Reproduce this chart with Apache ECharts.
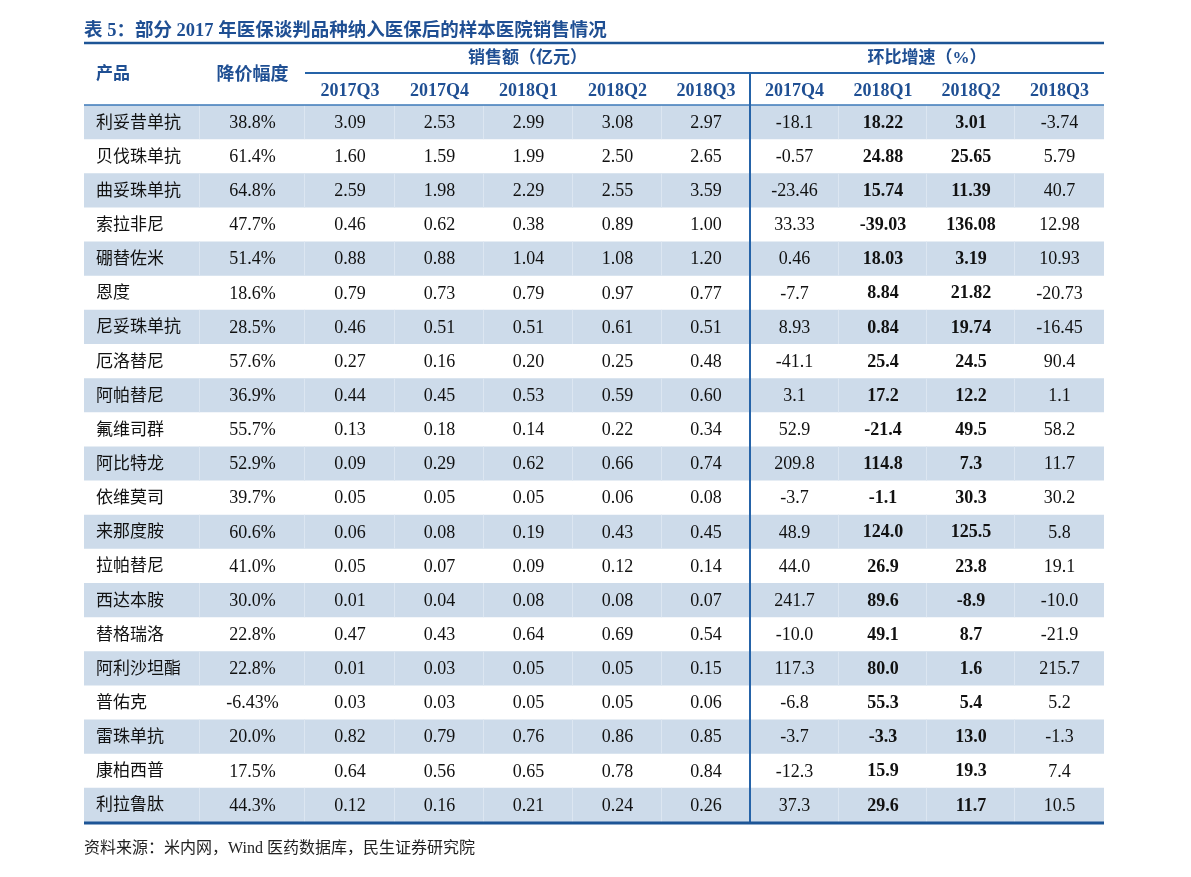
<!DOCTYPE html>
<html>
<head>
<meta charset="utf-8">
<script src="https://cdn.jsdelivr.net/npm/echarts@6/dist/echarts.min.js"></script>
<style>html,body{margin:0;padding:0;background:#fff}#c{width:1191px;height:877px}</style>
</head>
<body>
<div id="c"></div>
<script>
const titleText = '表 5：部分 2017 年医保谈判品种纳入医保后的样本医院销售情况';
const sourceText = '资料来源：米内网，Wind 医药数据库，民生证券研究院';
const groupSales = '销售额（亿元）';
const groupGrowth = '环比增速（%）';
const headProduct = '产品';
const headCut = '降价幅度';
const salesQuarters = ['2017Q3','2017Q4','2018Q1','2018Q2','2018Q3'];
const growthQuarters = ['2017Q4','2018Q1','2018Q2','2018Q3'];

const products = ['利妥昔单抗','贝伐珠单抗','曲妥珠单抗','索拉非尼','硼替佐米','恩度','尼妥珠单抗','厄洛替尼','阿帕替尼','氟维司群','阿比特龙','依维莫司','来那度胺','拉帕替尼','西达本胺','替格瑞洛','阿利沙坦酯','普佑克','雷珠单抗','康柏西普','利拉鲁肽'];
const priceCut = ['38.8%','61.4%','64.8%','47.7%','51.4%','18.6%','28.5%','57.6%','36.9%','55.7%','52.9%','39.7%','60.6%','41.0%','30.0%','22.8%','22.8%','-6.43%','20.0%','17.5%','44.3%'];

const sales2017Q3 = ['3.09','1.60','2.59','0.46','0.88','0.79','0.46','0.27','0.44','0.13','0.09','0.05','0.06','0.05','0.01','0.47','0.01','0.03','0.82','0.64','0.12'];
const sales2017Q4 = ['2.53','1.59','1.98','0.62','0.88','0.73','0.51','0.16','0.45','0.18','0.29','0.05','0.08','0.07','0.04','0.43','0.03','0.03','0.79','0.56','0.16'];
const sales2018Q1 = ['2.99','1.99','2.29','0.38','1.04','0.79','0.51','0.20','0.53','0.14','0.62','0.05','0.19','0.09','0.08','0.64','0.05','0.05','0.76','0.65','0.21'];
const sales2018Q2 = ['3.08','2.50','2.55','0.89','1.08','0.97','0.61','0.25','0.59','0.22','0.66','0.06','0.43','0.12','0.08','0.69','0.05','0.05','0.86','0.78','0.24'];
const sales2018Q3 = ['2.97','2.65','3.59','1.00','1.20','0.77','0.51','0.48','0.60','0.34','0.74','0.08','0.45','0.14','0.07','0.54','0.15','0.06','0.85','0.84','0.26'];

const growth2017Q4 = ['-18.1','-0.57','-23.46','33.33','0.46','-7.7','8.93','-41.1','3.1','52.9','209.8','-3.7','48.9','44.0','241.7','-10.0','117.3','-6.8','-3.7','-12.3','37.3'];
const growth2018Q1 = ['18.22','24.88','15.74','-39.03','18.03','8.84','0.84','25.4','17.2','-21.4','114.8','-1.1','124.0','26.9','89.6','49.1','80.0','55.3','-3.3','15.9','29.6'];
const growth2018Q2 = ['3.01','25.65','11.39','136.08','3.19','21.82','19.74','24.5','12.2','49.5','7.3','30.3','125.5','23.8','-8.9','8.7','1.6','5.4','13.0','19.3','11.7'];
const growth2018Q3 = ['-3.74','5.79','40.7','12.98','10.93','-20.73','-16.45','90.4','1.1','58.2','11.7','30.2','5.8','19.1','-10.0','-21.9','215.7','5.2','-1.3','7.4','10.5'];

// layout (axis units along x)
const colEdges = [0,116,221,311,400,489,578,666,755,843,931,1020];
const boldCols = [8, 9];

const columns = [products, priceCut, sales2017Q3, sales2017Q4, sales2018Q1, sales2018Q2, sales2018Q3,
                 growth2017Q4, growth2018Q1, growth2018Q2, growth2018Q3];

const cells = [];
products.forEach((p, i) => {
  columns.forEach((col, j) => { cells.push({ value: [j, i], text: col[i] }); });
});

const SERIF = "'Liberation Serif','Noto Sans CJK SC',serif";
const BLUE = '#1f4f93';
const LINE = '#2563a8';
const SHADE = '#cddbea';

const chart = echarts.init(document.getElementById('c'), null, { renderer: 'canvas' });

function cellRender(params, api) {
  const j = api.value(0), i = api.value(1);
  const left = api.coord([colEdges[j], i])[0];
  const right = api.coord([colEdges[j + 1], i])[0];
  const cy = api.coord([0, i])[1];
  const h = api.size([0, 1])[1];
  const children = [];
  if (i % 2 === 0) {
    children.push({ type: 'rect', shape: { x: left, y: cy - h / 2, width: right - left, height: h }, style: { fill: SHADE } });
    if (j < 10) children.push({ type: 'line', shape: { x1: right - 0.5, y1: cy - h / 2, x2: right - 0.5, y2: cy + h / 2 }, style: { stroke: '#dce6f1', lineWidth: 1 } });
  }
  const bold = boldCols.indexOf(j) >= 0;
  children.push({
    type: 'text',
    style: {
      text: cells[params.dataIndex].text,
      x: j === 0 ? left + 12 : (left + right) / 2,
      y: cy + 1,
      textAlign: j === 0 ? 'left' : 'center',
      textVerticalAlign: 'middle',
      fill: '#111',
      font: (bold ? 'bold ' : '') + (j === 0 ? '17px ' : '18px ') + SERIF
    }
  });
  return { type: 'group', children };
}

function headerRender(params, api) {
  const h = api.size([0, 1])[1];
  const top = api.coord([0, 0])[1] - h / 2;
  const bottom = api.coord([0, products.length - 1])[1] + h / 2;
  const X = v => api.coord([v, 0])[0];
  const r2 = top - 15, r1 = top - 46, subLine = top - 32, topLine = top - 62;
  const ch = [];
  const hText = (t, x, y, align, size) => ch.push({ type: 'text', style: { text: t, x, y, textAlign: align || 'center', textVerticalAlign: 'middle', fill: BLUE, font: 'bold ' + (size || 17) + 'px ' + SERIF } });
  hText(headProduct, X(colEdges[0]) + 12, top - 30, 'left');
  hText(headCut, (X(colEdges[1]) + X(colEdges[2])) / 2, top - 30, 'center', 18);
  hText(groupSales, (X(colEdges[2]) + X(colEdges[7])) / 2, r1);
  hText(groupGrowth, (X(colEdges[7]) + X(colEdges[11])) / 2, r1);
  salesQuarters.forEach((q, k) => hText(q, (X(colEdges[2 + k]) + X(colEdges[3 + k])) / 2, r2 + 1, 'center', 18));
  growthQuarters.forEach((q, k) => hText(q, (X(colEdges[7 + k]) + X(colEdges[8 + k])) / 2, r2 + 1, 'center', 18));
  const line = (x1, y1, x2, y2, w, c) => ch.push({ type: 'line', shape: { x1, y1, x2, y2 }, style: { stroke: c, lineWidth: w } });
  line(X(0), topLine, X(1020), topLine, 2.5, '#1d5596');
  line(X(colEdges[2]), subLine, X(1020), subLine, 2, LINE);
  line(X(0), top, X(1020), top, 1.5, '#3b78b8');
  line(X(colEdges[7]), subLine, X(colEdges[7]), bottom, 2, LINE);
  line(X(0), bottom + 1, X(1020), bottom + 1, 3, '#1d5596');
  return { type: 'group', children: ch };
}

chart.setOption({
  animation: false,
  title: [
    { text: titleText, left: 84, top: 22, padding: 0, textStyle: { color: BLUE, fontSize: 18.5, fontWeight: 'bold', fontFamily: SERIF } },
    { text: sourceText, left: 84, top: 841, padding: 0, textStyle: { color: '#222', fontSize: 16, fontWeight: 'normal', fontFamily: SERIF } }
  ],
  grid: { left: 84, top: 105, width: 1020, height: 717 },
  xAxis: { type: 'value', min: 0, max: 1020, show: false },
  yAxis: { type: 'category', data: products, inverse: true, show: false },
  series: [
    { type: 'custom', name: 'cells', coordinateSystem: 'cartesian2d', encode: { x: 0, y: 1 }, data: cells.map(c => c.value), renderItem: cellRender, silent: true },
    { type: 'custom', name: 'header', coordinateSystem: 'cartesian2d', encode: { x: 0, y: 1 }, data: [[0, 0]], renderItem: headerRender, silent: true, z: 3 }
  ]
});
</script>
</body>
</html>
